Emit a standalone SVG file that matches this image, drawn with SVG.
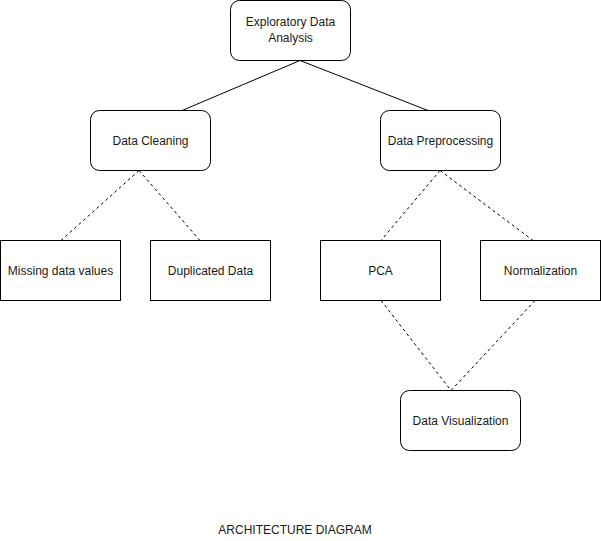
<svg xmlns="http://www.w3.org/2000/svg" width="601" height="541" viewBox="0 0 601 541">
<style>
.box{fill:#fff;stroke:#000;stroke-width:1}
.solid{fill:none;stroke:#000;stroke-width:1}
.dash{fill:none;stroke:#000;stroke-width:1;stroke-dasharray:3 3}
.lbl{font-family:"Liberation Sans",Arial,sans-serif;font-size:12px;fill:#1a1a1a;text-anchor:middle}
</style>
<rect width="601" height="541" fill="#fff"/>
<g id="connectors">
<line class="solid" x1="300" y1="60.5" x2="182" y2="110.5"/>
<line class="solid" x1="300" y1="60.5" x2="428" y2="110.5"/>
<line class="dash" x1="139" y1="170.5" x2="61" y2="240.5"/>
<line class="dash" x1="139" y1="170.5" x2="200" y2="240.5"/>
<line class="dash" x1="440" y1="170.5" x2="381" y2="240.5"/>
<line class="dash" x1="440" y1="170.5" x2="533" y2="240.5"/>
<line class="dash" x1="381" y1="300.5" x2="451" y2="390.5"/>
<line class="dash" x1="535" y1="300.5" x2="451" y2="390.5"/>
</g>
<g id="eda">
<rect class="box" x="230.5" y="0.5" width="120" height="60" rx="9"/>
<text class="lbl" x="290.5" y="26">Exploratory Data</text>
<text class="lbl" x="290.5" y="42">Analysis</text>
</g>
<g id="cleaning">
<rect class="box" x="90.5" y="110.5" width="120" height="60" rx="9"/>
<text class="lbl" x="150.5" y="145">Data Cleaning</text>
</g>
<g id="preprocessing">
<rect class="box" x="380.5" y="110.5" width="120" height="60" rx="9"/>
<text class="lbl" x="440.5" y="145">Data Preprocessing</text>
</g>
<g id="missing">
<rect class="box" x="0.5" y="240.5" width="120" height="60"/>
<text class="lbl" x="60.5" y="275">Missing data values</text>
</g>
<g id="duplicated">
<rect class="box" x="150.5" y="240.5" width="120" height="60"/>
<text class="lbl" x="210.5" y="275">Duplicated Data</text>
</g>
<g id="pca">
<rect class="box" x="320.5" y="240.5" width="120" height="60"/>
<text class="lbl" x="380.5" y="275">PCA</text>
</g>
<g id="normalization">
<rect class="box" x="480.5" y="240.5" width="120" height="60"/>
<text class="lbl" x="540.5" y="275">Normalization</text>
</g>
<g id="visualization">
<rect class="box" x="400.5" y="390.5" width="120" height="60" rx="9"/>
<text class="lbl" x="460.5" y="425">Data Visualization</text>
</g>
<text class="lbl" x="295" y="534">ARCHITECTURE DIAGRAM</text>
</svg>
